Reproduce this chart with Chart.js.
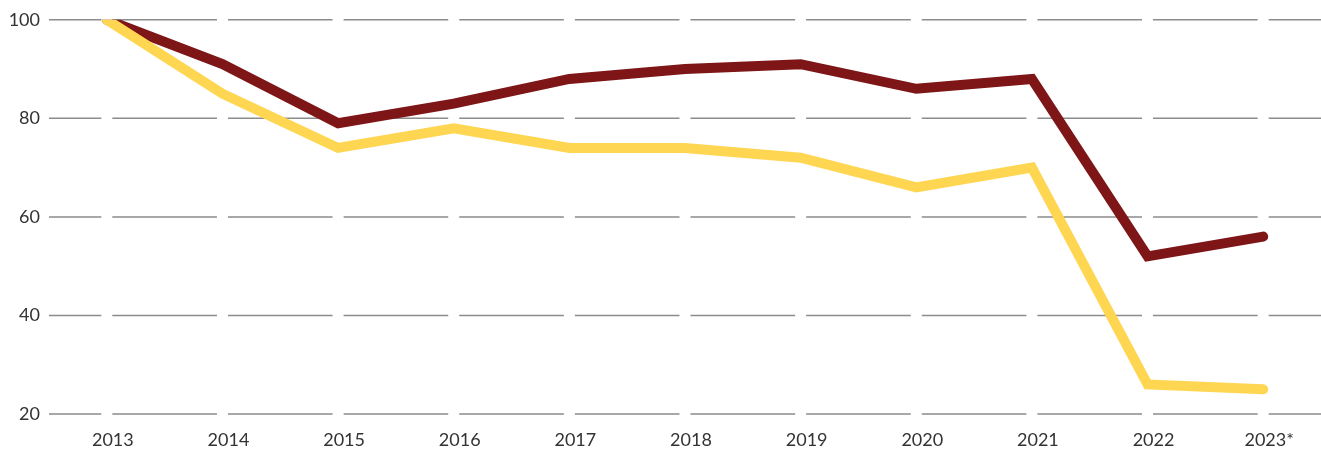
<!DOCTYPE html>
<html>
<head>
<meta charset="utf-8">
<script src="https://cdn.jsdelivr.net/npm/chart.js@4/dist/chart.umd.min.js"></script>
<style>
  html, body { margin: 0; padding: 0; background: #fff; }
  #wrap { width: 1321px; height: 457px; position: relative; }
</style>
</head>
<body>
<div id="wrap"><canvas id="myChart"></canvas></div>
<script>
var years = ["2013", "2014", "2015", "2016", "2017", "2018", "2019", "2020", "2021", "2022", "2023*"]
var redSeries = [100, 91, 79, 83, 88, 90, 91, 86, 88, 52, 56]
var yellowSeries = [100, 85, 74, 78, 74, 74, 72, 66, 70, 26, 25]
var yTicks = [20, 40, 60, 80, 100]

// horizontal grid lines, broken by a small gap under every year
var gappedGrid = {
    id: "gappedGrid",
    beforeDatasetsDraw: function (chart) {
        var ctx = chart.ctx
        var x = chart.scales.x
        var y = chart.scales.y
        var area = chart.chartArea
        var gap = 5.5
        var centers = years.map(function (_, i) { return x.getPixelForValue(i) })

        ctx.save()
        ctx.strokeStyle = "#8c8c8c"
        ctx.lineWidth = 1.5
        yTicks.forEach(function (t) {
            var py = y.getPixelForValue(t)
            var from = area.left
            ctx.beginPath()
            centers.forEach(function (c) {
                ctx.moveTo(from, py)
                ctx.lineTo(c - gap, py)
                from = c + gap
            })
            ctx.moveTo(from, py)
            ctx.lineTo(area.right, py)
            ctx.stroke()
        })
        ctx.restore()
    }
}

var font = { family: "Lato", size: 18 }

var chart = new Chart(document.getElementById("myChart").getContext("2d"), {
    type: "line",
    data: {
        labels: years,
        datasets: [
            {
                label: "yellow",
                data: yellowSeries,
                borderColor: "#FFD652",
                borderWidth: 10,
                borderCapStyle: "round",
                borderJoinStyle: "miter",
                pointRadius: 0,
                tension: 0
            },
            {
                label: "red",
                data: redSeries,
                borderColor: "#7E1517",
                borderWidth: 10,
                borderCapStyle: "round",
                borderJoinStyle: "miter",
                pointRadius: 0,
                tension: 0
            }
        ]
    },
    options: {
        responsive: true,
        maintainAspectRatio: false,
        animation: false,
        layout: { padding: { top: 8, bottom: 0, left: 0, right: 0 } },
        plugins: {
            legend: { display: false },
            tooltip: { enabled: false }
        },
        scales: {
            x: {
                offset: true,
                grid: { display: false, drawTicks: false },
                border: { display: false },
                afterFit: function (scale) { scale.height = 43 },
                ticks: { color: "#333", font: font, padding: 15, maxRotation: 0, labelOffset: 6 }
            },
            y: {
                min: 20,
                max: 100,
                grid: { display: false, drawTicks: false },
                border: { display: false },
                afterFit: function (scale) { scale.width = 49 },
                afterBuildTicks: function (scale) {
                    scale.ticks = yTicks.map(function (v) { return { value: v } })
                },
                ticks: { color: "#333", font: font, padding: 9 }
            }
        }
    },
    plugins: [gappedGrid]
})
</script>
</body>
</html>
